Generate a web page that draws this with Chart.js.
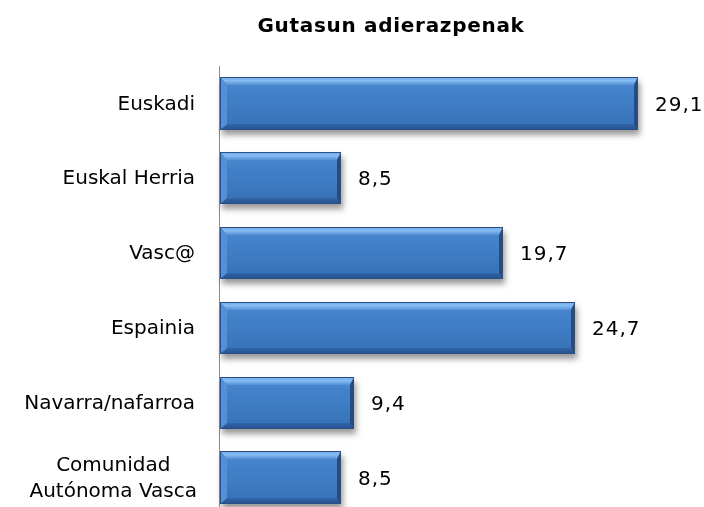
<!DOCTYPE html>
<html>
<head>
<meta charset="utf-8">
<script src="https://cdn.jsdelivr.net/npm/chart.js@4/dist/chart.umd.min.js"></script>
<style>
html,body{margin:0;padding:0;overflow:hidden;background:#fff;}
#wrap{position:relative;width:704px;height:515px;}
</style>
</head>
<body>
<div id="wrap"><canvas id="c"></canvas></div>
<script>
const chartTitle = "Gutasun adierazpenak";
const categories = ["Euskadi", "Euskal Herria", "Vasc@", "Espainia", "Navarra/nafarroa", ["Comunidad", "Autónoma Vasca"]];
const values = [29.1, 8.5, 19.7, 24.7, 9.4, 8.5];
const xMin = 0;
const xMax = 32;

const FONT = "'DejaVu Sans', Verdana, sans-serif";

function fmt(v){ return v.toFixed(1).replace('.', ','); }

const bevelPlugin = {
  id: 'bevelBars',
  afterDatasetsDraw(chart){
    const ctx = chart.ctx;
    const meta = chart.getDatasetMeta(0);
    meta.data.forEach((el, i) => {
      const p = el.getProps(['x','y','base','height'], true);
      const l = Math.round(p.base) + 1, r = Math.round(p.x);
      const t = Math.round(p.y - p.height/2), b = Math.round(p.y + p.height/2);
      const w = r - l, h = b - t;
      const bt = 8, bb = 6, bl = 7, br = 4;
      // shadow
      ctx.save();
      ctx.shadowColor = 'rgba(0,0,0,0.4)';
      ctx.shadowBlur = 6;
      ctx.shadowOffsetX = 2;
      ctx.shadowOffsetY = 5;
      ctx.fillStyle = '#3a77c0';
      ctx.fillRect(l, t, w, h);
      ctx.restore();
      // main gradient
      const g = ctx.createLinearGradient(0, t, 0, b);
      g.addColorStop(0, '#4c89d0');
      g.addColorStop(0.35, '#4180c8');
      g.addColorStop(0.75, '#3b77bd');
      g.addColorStop(1, '#3570b4');
      ctx.fillStyle = g;
      ctx.fillRect(l, t, w, h);
      // top bevel
      const gt = ctx.createLinearGradient(0, t, 0, t + bt);
      gt.addColorStop(0, '#6fa8e8');
      gt.addColorStop(0.45, '#86bdf2');
      gt.addColorStop(1, '#5590d6');
      ctx.fillStyle = gt;
      ctx.beginPath();
      ctx.moveTo(l, t); ctx.lineTo(r, t); ctx.lineTo(r - br, t + bt); ctx.lineTo(l + bl, t + bt); ctx.closePath(); ctx.fill();
      // bottom bevel
      const gb = ctx.createLinearGradient(0, b - bb, 0, b);
      gb.addColorStop(0, '#3065a8');
      gb.addColorStop(1, '#25508c');
      ctx.fillStyle = gb;
      ctx.beginPath();
      ctx.moveTo(l, b); ctx.lineTo(r, b); ctx.lineTo(r - br, b - bb); ctx.lineTo(l + bl, b - bb); ctx.closePath(); ctx.fill();
      // left bevel
      ctx.fillStyle = '#5590d5';
      ctx.beginPath();
      ctx.moveTo(l, t); ctx.lineTo(l + bl, t + bt); ctx.lineTo(l + bl, b - bb); ctx.lineTo(l, b); ctx.closePath(); ctx.fill();
      // right bevel
      ctx.fillStyle = '#234c85';
      ctx.beginPath();
      ctx.moveTo(r, t); ctx.lineTo(r - br, t + bt); ctx.lineTo(r - br, b - bb); ctx.lineTo(r, b); ctx.closePath(); ctx.fill();
      // border
      ctx.strokeStyle = '#2a4f86';
      ctx.lineWidth = 1;
      ctx.strokeRect(l + 0.5, t + 0.5, w - 1, h - 1);
      // value label
      ctx.save();
      ctx.fillStyle = '#000';
      ctx.font = '20px ' + FONT;
      ctx.textAlign = 'left';
      ctx.textBaseline = 'middle';
      try { ctx.letterSpacing = '1px'; } catch(e) {}
      ctx.fillText(fmt(values[i]), r + 17, p.y + 2);
      ctx.restore();
    });
  },
  afterDraw(chart){
    const ctx = chart.ctx;
    const ys = chart.scales.y;
    ctx.save();
    ctx.fillStyle = '#000';
    ctx.font = '20px ' + FONT;
    ctx.textBaseline = 'middle';
    categories.forEach((lab, i) => {
      const yc = ys.getPixelForValue(i);
      if (Array.isArray(lab)) {
        const lh = 26;
        const widths = lab.map(s => ctx.measureText(s).width);
        const maxW = Math.max(...widths);
        const cx = 197 - maxW/2;
        ctx.textAlign = 'center';
        lab.forEach((s, k) => {
          ctx.fillText(s, cx, yc + (k - (lab.length-1)/2) * lh + 1);
        });
      } else {
        ctx.textAlign = 'right';
        ctx.fillText(lab, 195, yc + 1);
      }
    });
    // title
    ctx.font = 'bold 20px ' + FONT;
    ctx.textAlign = 'center';
    try { ctx.letterSpacing = '0.7px'; } catch(e) {}
    ctx.fillText(chartTitle, 391, 27);
    ctx.restore();
  }
};

new Chart(document.getElementById('c'), {
  type: 'bar',
  data: {
    labels: categories,
    datasets: [{
      data: values,
      backgroundColor: 'rgba(0,0,0,0)',
      borderWidth: 0,
      categoryPercentage: 0.8,
      barPercentage: 0.875
    }]
  },
  options: {
    indexAxis: 'y',
    responsive: true,
    maintainAspectRatio: false,
    animation: false,
    layout: { padding: { top: 66, left: 219, right: 24, bottom: 0 } },
    plugins: { legend: { display: false }, tooltip: { enabled: false } },
    scales: {
      x: { display: false, min: xMin, max: xMax },
      y: {
        display: true,
        ticks: { display: false },
        grid: { display: false, drawTicks: false },
        border: { display: true, color: '#8c8c8c', width: 1 },
        afterFit(scale){ scale.width = 0; }
      }
    }
  },
  plugins: [bevelPlugin]
});
</script>
</body>
</html>
